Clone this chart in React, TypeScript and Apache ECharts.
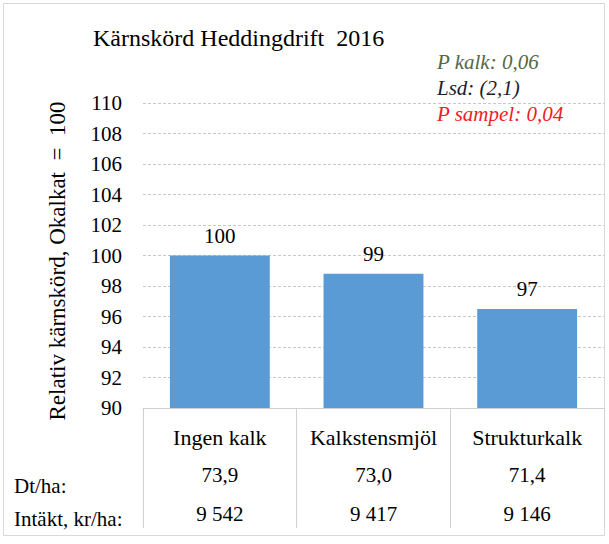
import React, { useEffect, useRef } from "react";
import * as echarts from "echarts";

const categories = ["Ingen kalk", "Kalkstensmjöl", "Strukturkalk"];
const relYield = [100, 98.8, 96.5];
const dtPerHa = ["73,9", "73,0", "71,4"];
const incomeKrPerHa = ["9 542", "9 417", "9 146"];
const rowLabels = ["Dt/ha:", "Intäkt, kr/ha:"];
const titleText = "Kärnskörd Heddingdrift  2016";
const yAxisTitle = "Relativ kärnskörd, Okalkat  =  100";
const notes = [
  { text: "P kalk: 0,06", color: "#55683f" },
  { text: "Lsd: (2,1)", color: "#1c1c30" },
  { text: "P sampel: 0,04", color: "#ee1c25" },
];

const SERIF = "Liberation Serif";

export default function App() {
  const ref = useRef<HTMLDivElement>(null);
  useEffect(() => {
    if (!ref.current) return;
    const chart = echarts.init(ref.current, null, { renderer: "svg" });
    const option: any = {
      animation: false,
      backgroundColor: "#ffffff",
      textStyle: { fontFamily: SERIF },
      grid: { left: 143, right: 5, top: 103, bottom: 136, containLabel: false },
      xAxis: {
        type: "category",
        data: categories,
        axisLine: { show: true, lineStyle: { color: "#d0d0d0", width: 1 } },
        axisTick: { show: true, length: 120, lineStyle: { color: "#d0d0d0", width: 1 } },
        axisLabel: {
          margin: 10,
          fontFamily: SERIF,
          formatter: (v: string, i: number) =>
            `{c|${v}}\n{v|${dtPerHa[i]}}\n{v|${incomeKrPerHa[i]}}`,
          rich: {
            c: { fontSize: 22, lineHeight: 38, color: "#000", fontFamily: SERIF },
            v: { fontSize: 21, lineHeight: 38.5, color: "#000", fontFamily: SERIF },
          },
        },
      },
      yAxis: {
        type: "value",
        min: 90,
        max: 110,
        interval: 2,
        axisLine: { show: false },
        axisTick: { show: false },
        axisLabel: { fontSize: 21, color: "#000", margin: 21, fontFamily: SERIF },
        splitLine: { show: true, lineStyle: { color: "#c8c8c8", type: [3, 2], width: 1 } },
      },
      series: [
        {
          type: "bar",
          data: relYield,
          barCategoryGap: "35%",
          itemStyle: { color: "#5b9bd5" },
          label: {
            show: true,
            position: "top",
            distance: 9,
            fontSize: 21,
            color: "#000",
            fontFamily: SERIF,
            formatter: (p: any) => String(Math.round(p.value)),
          },
        },
      ],
      graphic: [
        {
          type: "rect",
          shape: { x: 3.5, y: 3.5, width: 601, height: 532 },
          style: { fill: "none", stroke: "#d9d9d9", lineWidth: 1 },
          silent: true,
        },
        {
          type: "text",
          x: 93,
          y: 38,
          style: {
            text: titleText,
            fontSize: 24,
            fontFamily: SERIF,
            fill: "#000",
            verticalAlign: "middle",
          },
        },
        {
          type: "text",
          x: 57,
          y: 261,
          rotation: Math.PI / 2,
          style: {
            text: yAxisTitle,
            fontSize: 23,
            fontFamily: SERIF,
            fill: "#000",
            align: "center",
            verticalAlign: "middle",
          },
        },
        ...notes.map((n, i) => ({
          type: "text",
          x: 437,
          y: 62 + i * 26,
          style: {
            text: n.text,
            fontSize: 21,
            fontStyle: "italic",
            fontFamily: SERIF,
            fill: n.color,
            verticalAlign: "middle",
          },
        })),
        ...rowLabels.map((t, i) => ({
          type: "text",
          x: 14,
          y: 486 + i * 33,
          style: {
            text: t,
            fontSize: 21,
            fontFamily: SERIF,
            fill: "#000",
            verticalAlign: "middle",
          },
        })),
      ],
    };
    chart.setOption(option);
    return () => chart.dispose();
  }, []);
  return (
    <div
      ref={ref}
      style={{ position: "fixed", left: 0, top: 0, width: 609, height: 544, background: "#fff" }}
    />
  );
}
